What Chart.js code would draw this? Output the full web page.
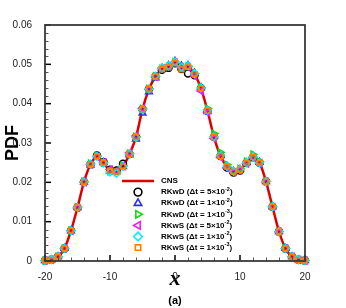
<!DOCTYPE html>
<html>
<head>
<meta charset="utf-8">
<script src="https://cdn.jsdelivr.net/npm/chart.js@4.4.0/dist/chart.umd.min.js"></script>
<style>
  body { margin: 0; background: #fff; }
  #box { width: 346px; height: 308px; position: relative; }
</style>
</head>
<body>
<div id="box"><canvas id="graphe"></canvas></div>
<script>
// abscisses des points (pas de 1)
const xs = [-20,-19,-18,-17,-16,-15,-14,-13,-12,-11,-10,-9,-8,-7,-6,-5,-4,-3,-2,-1,0,1,2,3,4,5,6,7,8,9,10,11,12,13,14,15,16,17,18,19,20]

// courbe de référence CNS
const cns = [0.0001,0.0003,0.0011,0.0032,0.0077,0.0136,0.0201,0.0246,0.0266,0.0250,0.0229,0.0227,0.0241,0.0272,0.0315,0.0386,0.0437,0.0469,0.0488,0.0493,0.0505,0.0490,0.0494,0.0475,0.0439,0.0382,0.0315,0.0267,0.0240,0.0227,0.0232,0.0249,0.0264,0.0250,0.0202,0.0138,0.0075,0.0032,0.0011,0.0003,0.0001]

// séries RKwD / RKwS
const rkwd5e2 = [0.0001,0.0003,0.0011,0.0032,0.0077,0.0136,0.0201,0.0246,0.0268,0.0252,0.0232,0.0230,0.0247,0.0272,0.0315,0.0386,0.0437,0.0469,0.0486,0.0491,0.0503,0.0488,0.0477,0.0472,0.0439,0.0382,0.0315,0.0267,0.0238,0.0225,0.0230,0.0249,0.0264,0.0250,0.0202,0.0138,0.0075,0.0032,0.0011,0.0003,0.0001]
const rkwd1e2 = [0.0001,0.0003,0.0011,0.0032,0.0077,0.0136,0.0201,0.0244,0.0264,0.0250,0.0229,0.0227,0.0240,0.0270,0.0310,0.0376,0.0430,0.0466,0.0490,0.0497,0.0508,0.0496,0.0497,0.0478,0.0441,0.0380,0.0317,0.0268,0.0241,0.0228,0.0233,0.0250,0.0266,0.0251,0.0202,0.0138,0.0075,0.0032,0.0011,0.0003,0.0001]
const rkwd1e3 = [0.0001,0.0003,0.0011,0.0032,0.0078,0.0137,0.0202,0.0248,0.0267,0.0250,0.0228,0.0226,0.0242,0.0273,0.0316,0.0387,0.0438,0.0470,0.0489,0.0494,0.0506,0.0491,0.0495,0.0477,0.0441,0.0388,0.0324,0.0276,0.0245,0.0229,0.0235,0.0253,0.0271,0.0253,0.0203,0.0139,0.0075,0.0032,0.0011,0.0003,0.0001]
const rkws5e2 = [0.0001,0.0003,0.0011,0.0032,0.0077,0.0135,0.0200,0.0245,0.0265,0.0251,0.0233,0.0229,0.0241,0.0275,0.0318,0.0388,0.0436,0.0468,0.0490,0.0495,0.0504,0.0492,0.0493,0.0471,0.0432,0.0378,0.0312,0.0264,0.0237,0.0226,0.0231,0.0248,0.0263,0.0249,0.0201,0.0137,0.0074,0.0032,0.0011,0.0003,0.0001]
const rkws1e2 = [0.0001,0.0003,0.0011,0.0032,0.0077,0.0136,0.0201,0.0246,0.0266,0.0249,0.0226,0.0223,0.0240,0.0272,0.0314,0.0385,0.0437,0.0470,0.0491,0.0496,0.0506,0.0493,0.0496,0.0476,0.0440,0.0383,0.0316,0.0268,0.0241,0.0228,0.0233,0.0250,0.0265,0.0250,0.0202,0.0138,0.0075,0.0032,0.0011,0.0003,0.0001]
const rkws1e3 = [0.0001,0.0003,0.0011,0.0032,0.0077,0.0136,0.0201,0.0246,0.0266,0.0250,0.0229,0.0227,0.0241,0.0272,0.0315,0.0386,0.0437,0.0469,0.0488,0.0493,0.0503,0.0487,0.0494,0.0475,0.0439,0.0382,0.0315,0.0267,0.0240,0.0227,0.0232,0.0249,0.0264,0.0250,0.0202,0.0138,0.0075,0.0032,0.0011,0.0003,0.0001]

// légende
const nomsSeries = ["RKwD","RKwD","RKwD","RKwS","RKwS","RKwS"]
const coefDt = ["5","1","1","5","1","1"]
const expDt = ["-2","-2","-3","-2","-2","-3"]

// ticks
const ticksX = [-20,-10,0,10,20]
const ticksY = [0,0.01,0.02,0.03,0.04,0.05,0.06]

const points = (valeurs) => xs.map((x,i) => ({x: x, y: valeurs[i]}))
const vide = "rgba(255,255,255,0)"

const styles = [
  {data: rkwd5e2, color: "#000000", pointStyle: "circle", rotation: 0, radius: 3.5},
  {data: rkwd1e2, color: "#2a2aff", pointStyle: "triangle", rotation: 0, radius: 3.9},
  {data: rkwd1e3, color: "#16d616", pointStyle: "triangle", rotation: 90, radius: 3.9},
  {data: rkws5e2, color: "#ff10ff", pointStyle: "triangle", rotation: -90, radius: 3.9},
  {data: rkws1e2, color: "#00f0ff", pointStyle: "rectRot", rotation: 0, radius: 3.9},
  {data: rkws1e3, color: "#ff8000", pointStyle: "rect", rotation: 0, radius: 3.4},
]

let datasets = [{
  label: "CNS",
  data: points(cns),
  borderColor: "#dd0000",
  borderWidth: 2.5,
  pointRadius: 0,
  showLine: true,
  tension: 0.25,
  order: 10,
  clip: false
}]
for (let i=0;i<styles.length;i++){
  const s = styles[i]
  datasets.push({
    label: nomsSeries[i],
    data: points(s.data),
    showLine: false,
    borderColor: s.color,
    backgroundColor: vide,
    pointBorderColor: s.color,
    pointBackgroundColor: vide,
    pointStyle: s.pointStyle,
    pointRotation: s.rotation,
    pointRadius: s.radius,
    pointBorderWidth: 1.5,
    order: 6 - i,
    clip: false
  })
}

// cadre, ticks vers l'intérieur, légende et "(a)"
const habillage = {
  id: "habillage",
  afterDatasetsDraw(chart){
    const ctx = chart.ctx
    const a = chart.chartArea
    const sx = chart.scales.x
    const sy = chart.scales.y
    ctx.save()
    // ticks mineurs
    ctx.strokeStyle = "#555"
    ctx.lineWidth = 1
    for (let v=-20; v<=20; v+=2){
      if (v % 10 == 0) continue
      const px = Math.round(sx.getPixelForValue(v)) + 0.5
      ctx.beginPath(); ctx.moveTo(px, a.bottom); ctx.lineTo(px, a.bottom-3.5); ctx.stroke()
    }
    for (let k=0; k<=30; k++){
      if (k % 5 == 0) continue
      const py = Math.round(sy.getPixelForValue(k*0.002)) + 0.5
      ctx.beginPath(); ctx.moveTo(a.left, py); ctx.lineTo(a.left+3.5, py); ctx.stroke()
    }
    // ticks majeurs
    ctx.strokeStyle = "#000"
    ctx.lineWidth = 1.5
    ticksX.forEach(v => {
      const px = sx.getPixelForValue(v)
      ctx.beginPath(); ctx.moveTo(px, a.bottom); ctx.lineTo(px, a.bottom-6); ctx.stroke()
    })
    ticksY.forEach(v => {
      const py = sy.getPixelForValue(v)
      ctx.beginPath(); ctx.moveTo(a.left, py); ctx.lineTo(a.left+6, py); ctx.stroke()
    })
    // cadre
    ctx.strokeStyle = "#3a3a3a"
    ctx.lineWidth = 1.8
    ctx.strokeRect(a.left, a.top, a.right-a.left, a.bottom-a.top)

    // légende
    const lx = a.left + 93
    const ly = a.top + 156
    const pas = 11.1
    ctx.strokeStyle = "#dd0000"
    ctx.lineWidth = 2.5
    ctx.beginPath(); ctx.moveTo(lx-16, ly); ctx.lineTo(lx+16, ly); ctx.stroke()
    ctx.fillStyle = "#000"
    ctx.textBaseline = "middle"
    ctx.textAlign = "left"
    ctx.font = "bold 8px 'Liberation Sans', Arial"
    ctx.fillText("CNS", lx+23, ly)
    for (let i=0;i<styles.length;i++){
      const y = ly + pas*(i+1)
      const s = styles[i]
      ctx.strokeStyle = s.color
      ctx.fillStyle = vide
      ctx.lineWidth = 1.6
      Chart.helpers.drawPoint(ctx, {pointStyle: s.pointStyle, rotation: s.rotation, radius: s.radius + 0.4, borderWidth: 1.6}, lx, y)
      ctx.fillStyle = "#000"
      ctx.font = "bold 8px 'Liberation Sans', Arial"
      let tx = lx + 23
      const debut = nomsSeries[i] + " (\u0394t = " + coefDt[i] + "\u00d710"
      ctx.fillText(debut, tx, y)
      tx += ctx.measureText(debut).width
      ctx.font = "bold 5.5px 'Liberation Sans', Arial"
      ctx.fillText(expDt[i], tx, y-3)
      tx += ctx.measureText(expDt[i]).width
      ctx.font = "bold 8px 'Liberation Sans', Arial"
      ctx.fillText(")", tx, y)
    }

    // étiquette (a)
    ctx.textAlign = "center"
    ctx.font = "bold 11px 'Liberation Sans', Arial"
    ctx.fillText("(a)", (a.left+a.right)/2, 301)
    ctx.restore()
  }
}

const graphe = new Chart(document.getElementById("graphe"), {
  type: "scatter",
  data: {datasets: datasets},
  options: {
    responsive: true,
    maintainAspectRatio: false,
    animation: false,
    layout: {padding: {top: 25, right: 41, bottom: 0, left: 0}},
    plugins: {legend: {display: false}, tooltip: {enabled: false}},
    scales: {
      x: {
        type: "linear",
        min: -20, max: 20,
        afterFit: (scale) => { scale.height = 47 },
        afterBuildTicks: (scale) => { scale.ticks = ticksX.map(v => ({value: v})) },
        grid: {display: false},
        border: {display: false},
        ticks: {padding: 2, color: "#222", font: {family: "'Liberation Sans', Arial", size: 10}},
        title: {display: true, text: "x", color: "#000", padding: {top: 0, bottom: 15},
                font: {family: "'Liberation Serif', 'Times New Roman', serif", size: 22, style: "italic", weight: "bold"}}
      },
      y: {
        type: "linear",
        min: 0, max: 0.06,
        afterFit: (scale) => { scale.width = 45 },
        afterBuildTicks: (scale) => { scale.ticks = ticksY.map(v => ({value: v})) },
        grid: {display: false},
        border: {display: false},
        ticks: {padding: 5, color: "#222", font: {family: "'Liberation Sans', Arial", size: 10},
                callback: (v) => v == 0 ? "0" : v.toFixed(2)},
        title: {display: true, text: "PDF", color: "#000", padding: {top: 2, bottom: 0},
                font: {family: "'Liberation Sans', Arial", size: 18, weight: "bold"}}
      }
    }
  },
  plugins: [habillage]
})
</script>
</body>
</html>
